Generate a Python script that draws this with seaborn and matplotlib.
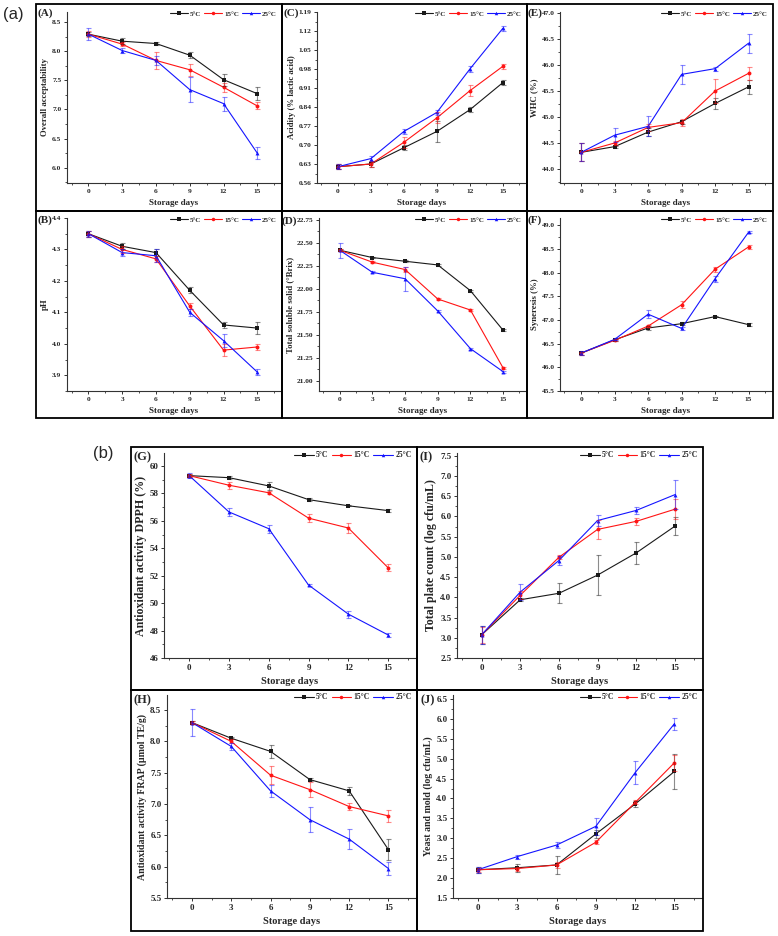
import matplotlib
matplotlib.use("Agg")
import matplotlib.pyplot as plt
from matplotlib.lines import Line2D
from matplotlib.patches import Rectangle
from matplotlib.ticker import AutoMinorLocator, FormatStrFormatter, MultipleLocator
import numpy as np
import pandas as pd
import seaborn as sns

# dados
days = [0, 3, 6, 9, 12, 15]
temps = ["5°C", "15°C", "25°C"]

acceptability = [[8.29, 8.17, 8.13, 7.93, 7.51, 7.27],
                 [8.29, 8.12, 7.84, 7.68, 7.38, 7.06],
                 [8.29, 8.01, 7.84, 7.34, 7.10, 6.25]]
acceptability_err = [[0.03, 0.05, 0.03, 0.05, 0.10, 0.11],
                     [0.05, 0.04, 0.15, 0.10, 0.08, 0.06],
                     [0.10, 0.04, 0.08, 0.21, 0.12, 0.10]]

acidity = [[0.62, 0.63, 0.69, 0.75, 0.83, 0.93],
           [0.62, 0.63, 0.71, 0.80, 0.90, 0.99],
           [0.62, 0.65, 0.75, 0.82, 0.98, 1.13]]
acidity_err = [[0.01, 0.01, 0.01, 0.04, 0.01, 0.01],
               [0.01, 0.01, 0.02, 0.02, 0.02, 0.01],
               [0.01, 0.01, 0.01, 0.01, 0.01, 0.01]]

whc = [[44.32, 44.43, 44.71, 44.91, 45.26, 45.58],
       [44.32, 44.50, 44.80, 44.89, 45.50, 45.84],
       [44.32, 44.65, 44.82, 45.82, 45.93, 46.42]]
whc_err = [[0.17, 0.02, 0.08, 0.04, 0.10, 0.13],
           [0.17, 0.03, 0.06, 0.07, 0.23, 0.13],
           [0.17, 0.14, 0.19, 0.18, 0.04, 0.18]]

ph = [[4.35, 4.31, 4.29, 4.17, 4.06, 4.05],
      [4.35, 4.30, 4.27, 4.12, 3.98, 3.99],
      [4.35, 4.29, 4.28, 4.10, 4.01, 3.91]]
ph_err = [[0.01, 0.01, 0.01, 0.01, 0.01, 0.02],
          [0.01, 0.01, 0.01, 0.01, 0.02, 0.01],
          [0.01, 0.01, 0.02, 0.01, 0.02, 0.01]]

tss = [[22.42, 22.34, 22.30, 22.26, 21.98, 21.55],
       [22.42, 22.29, 22.21, 21.89, 21.77, 21.14],
       [22.42, 22.18, 22.11, 21.76, 21.35, 21.10]]
tss_err = [[0.01, 0.01, 0.01, 0.01, 0.01, 0.01],
           [0.01, 0.01, 0.03, 0.01, 0.01, 0.01],
           [0.08, 0.01, 0.13, 0.01, 0.01, 0.01]]

syneresis = [[46.30, 46.58, 46.83, 46.92, 47.07, 46.90],
             [46.30, 46.57, 46.87, 47.32, 48.07, 48.54],
             [46.30, 46.59, 47.12, 46.82, 47.87, 48.85]]
syneresis_err = [[0.03, 0.02, 0.05, 0.03, 0.01, 0.03],
                 [0.03, 0.02, 0.03, 0.07, 0.05, 0.04],
                 [0.05, 0.02, 0.08, 0.03, 0.06, 0.02]]

dpph = [[59.30, 59.15, 58.55, 57.55, 57.10, 56.75],
        [59.30, 58.60, 58.05, 56.20, 55.48, 52.58],
        [59.30, 56.65, 55.43, 51.32, 49.20, 47.68]]
dpph_err = [[0.10, 0.10, 0.30, 0.10, 0.05, 0.10],
            [0.10, 0.25, 0.10, 0.30, 0.35, 0.25],
            [0.20, 0.30, 0.30, 0.10, 0.25, 0.15]]

tpc = [[3.07, 3.94, 4.10, 4.55, 5.10, 5.76],
       [3.07, 4.05, 4.99, 5.68, 5.88, 6.18],
       [3.07, 4.13, 4.91, 5.90, 6.15, 6.54]]
tpc_err = [[0.23, 0.04, 0.25, 0.50, 0.27, 0.23],
           [0.20, 0.10, 0.05, 0.24, 0.08, 0.25],
           [0.23, 0.20, 0.12, 0.14, 0.09, 0.36]]

frap = [[8.30, 8.05, 7.84, 7.39, 7.21, 6.27],
        [8.30, 8.00, 7.46, 7.23, 6.96, 6.81],
        [8.30, 7.92, 7.21, 6.75, 6.44, 5.97]]
frap_err = [[0.03, 0.02, 0.10, 0.02, 0.06, 0.17],
            [0.03, 0.03, 0.14, 0.12, 0.06, 0.09],
            [0.21, 0.05, 0.09, 0.20, 0.16, 0.11]]

yeast = [[2.21, 2.26, 2.33, 3.11, 3.86, 4.68],
         [2.21, 2.24, 2.33, 2.90, 3.90, 4.90],
         [2.21, 2.54, 2.83, 3.30, 4.65, 5.88]]
yeast_err = [[0.08, 0.10, 0.22, 0.10, 0.07, 0.43],
             [0.05, 0.05, 0.08, 0.05, 0.05, 0.20],
             [0.08, 0.05, 0.08, 0.22, 0.28, 0.15]]

sns.set_theme(style="ticks")
plt.rcParams["font.family"] = ["Liberation Serif", "DejaVu Serif"]
plt.rcParams["font.weight"] = "bold"
plt.rcParams["axes.labelweight"] = "bold"

W, H = 778, 936
fig = plt.figure(figsize=(W / 100, H / 100), dpi=100)

cores = {"5°C": "#1a1a1a", "15°C": "#ff1414", "25°C": "#1414ff"}
marcadores = {"5°C": "s", "15°C": "o", "25°C": "^"}


def caixa(x0, y0, x1, y1):
    fig.add_artist(Rectangle((x0 / W, 1 - y1 / H), (x1 - x0) / W, (y1 - y0) / H,
                             transform=fig.transFigure, fill=False, lw=1.3, ec="black"))


def painel(box, axbox, tag, tagpos, vals, errs, ylabel, ylim, yticks, fmt,
           grande=False, fs_ylab=6.3):
    caixa(*box)
    l, t, r, b = axbox
    ax = fig.add_axes([l / W, 1 - b / H, (r - l) / W, (b - t) / H])
    ax.patch.set_alpha(0)

    df = pd.DataFrame({
        "dia": days * 3,
        "valor": sum(vals, []),
        "erro": sum(errs, []),
        "temp": [t_ for t_ in temps for _ in days],
    })
    sns.lineplot(data=df, x="dia", y="valor", hue="temp", style="temp", hue_order=temps,
                 style_order=temps, palette=cores, markers=marcadores, dashes=False,
                 lw=0.8, markersize=2.8, markeredgewidth=0, legend=False, ax=ax)
    for tp in temps:
        sub = df[df["temp"] == tp]
        ax.errorbar(sub["dia"], sub["valor"], yerr=sub["erro"], fmt="none",
                    ecolor=cores[tp], alpha=0.5, elinewidth=0.8, capsize=1.8, capthick=0.8)

    fs_tick = 6.5 if grande else 5.3
    fs_xlab = 7.5 if grande else 6.5
    fs_leg = 5.5 if grande else 5
    fs_tag = 9 if grande else 8

    ax.set_xlim(-1.9, 17.1)
    ax.set_ylim(*ylim)
    ax.set_xticks(days)
    ax.xaxis.set_minor_locator(MultipleLocator(1.5))
    y0, y1, st = yticks
    ax.set_yticks(np.arange(y0, y1 + st / 2, st))
    ax.yaxis.set_major_formatter(FormatStrFormatter(fmt))
    ax.yaxis.set_minor_locator(AutoMinorLocator(2))
    ax.tick_params(which="major", direction="out", length=2.5, width=0.7,
                   labelsize=fs_tick, pad=1.5, color="#333333")
    ax.tick_params(which="minor", direction="out", length=1.5, width=0.6, color="#333333")
    for lbl in ax.get_xticklabels() + ax.get_yticklabels():
        lbl.set_fontweight("bold")
    for s in ["top", "right"]:
        ax.spines[s].set_visible(False)
    for s in ["left", "bottom"]:
        ax.spines[s].set_linewidth(0.8)
        ax.spines[s].set_color("#333333")

    ax.set_xlabel("Storage days", fontsize=fs_xlab, fontweight="bold", labelpad=4)
    ax.set_ylabel(ylabel, fontsize=fs_ylab, fontweight="bold", labelpad=2)

    handles = [Line2D([], [], color=cores[tp], marker=marcadores[tp], ms=2.5, lw=0.8, mew=0)
               for tp in temps]
    ax.legend(handles, temps, loc="upper right", bbox_to_anchor=(1.0, 1.03), ncol=3,
              frameon=False, fontsize=fs_leg, handlelength=2.6, handletextpad=0.3,
              columnspacing=0.4, borderaxespad=0.2)

    fig.text(tagpos[0] / W, 1 - tagpos[1] / H, tag, fontsize=fs_tag, fontweight="bold",
             ha="left", va="center")
    return ax


# painel (a)
painel((36, 4, 282, 211), (67, 12, 281, 183), "(A)", (38, 13), acceptability, acceptability_err,
       "Overall acceptability", (5.74, 8.67), (6.0, 8.5, 0.5), "%.1f")
painel((282, 4, 527, 211), (317, 12, 526, 183), "(C)", (283, 13), acidity, acidity_err,
       "Acidity (% lactic acid)", (0.56, 1.19), (0.56, 1.19, 0.07), "%.2f")
painel((527, 4, 773, 211), (560, 12, 772, 183), "(E)", (528, 13), whc, whc_err,
       "WHC (%)", (43.73, 47.02), (44.0, 47.0, 0.5), "%.1f")
painel((36, 211, 282, 418), (67, 218, 281, 391), "(B)", (37, 220), ph, ph_err,
       "pH", (3.85, 4.4), (3.9, 4.4, 0.1), "%.1f")
painel((282, 211, 527, 418), (319, 218, 526, 391), "(D)", (282, 221), tss, tss_err,
       "Total soluble solid (°Brix)", (20.89, 22.77), (21.0, 22.75, 0.25), "%.2f")
painel((527, 211, 773, 418), (560, 218, 772, 391), "(F)", (528, 220), syneresis, syneresis_err,
       "Syneresis (%)", (45.5, 49.15), (45.5, 49.0, 0.5), "%.1f")

# painel (b)
painel((131, 447, 417, 690), (164, 453, 416, 658), "(G)", (133, 457), dpph, dpph_err,
       "Antioxidant activity DPPH (%)", (46, 60.95), (46, 60, 2), "%d",
       grande=True, fs_ylab=8.6)
painel((417, 447, 703, 690), (457, 453, 702, 658), "(I)", (420, 457), tpc, tpc_err,
       "Total plate count (log cfu/mL)", (2.5, 7.57), (2.5, 7.5, 0.5), "%.1f",
       grande=True, fs_ylab=8.6)
painel((131, 690, 417, 931), (167, 695, 416, 898), "(H)", (133, 700), frap, frap_err,
       "Antioxidant activity FRAP (µmol TE/g)", (5.5, 8.74), (5.5, 8.5, 0.5), "%.1f",
       grande=True, fs_ylab=7.1)
painel((417, 690, 703, 931), (453, 695, 702, 898), "(J)", (421, 700), yeast, yeast_err,
       "Yeast and mold (log cfu/mL)", (1.5, 6.6), (1.5, 6.5, 0.5), "%.1f",
       grande=True, fs_ylab=7.1)

fig.text(3 / W, 1 - 15 / H, "(a)", fontsize=12, family="Liberation Sans", fontweight="normal",
         ha="left", va="center")
fig.text(93 / W, 1 - 453 / H, "(b)", fontsize=12, family="Liberation Sans", fontweight="normal",
         ha="left", va="center")

fig.savefig("out.png", dpi=100)
